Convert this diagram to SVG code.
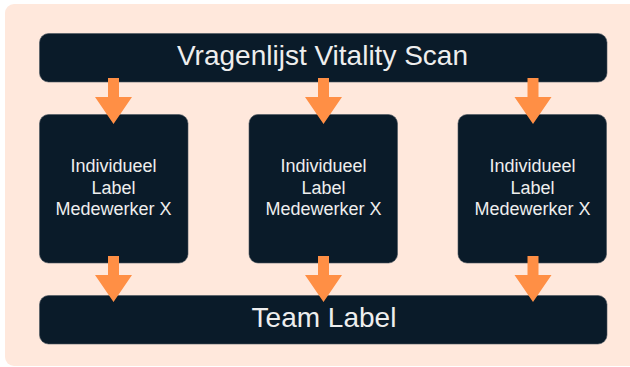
<svg xmlns="http://www.w3.org/2000/svg" width="630" height="367" viewBox="0 0 630 367">
<style>
.bg{fill:#FFE8DC}
.box{fill:#0A1B29;stroke:#4a5560;stroke-width:0.6}
.t{font-family:"Liberation Sans",Arial,sans-serif;fill:#EEEEEE;text-anchor:middle}
.big{font-size:28px}
.small{font-size:18px}
.arr{fill:#FF8F45}
</style>
<defs>
<path id="arrow" d="M-5.5,0 H5.5 V19 H18.5 L0,46 L-18.5,19 H-5.5 Z"/>
</defs>
<rect width="630" height="367" fill="#ffffff"/>
<rect class="bg" x="5" y="4" width="640" height="362" rx="9"/>
<g id="top">
<rect class="box" x="39.5" y="33.5" width="567.5" height="48.5" rx="9"/>
<text class="t big" x="322.5" y="65">Vragenlijst Vitality Scan</text>
</g>
<g id="node1">
<rect class="box" x="39.5" y="114.5" width="148.5" height="148.5" rx="9"/>
<text class="t small" x="113.5" y="172">Individueel</text>
<text class="t small" x="113.5" y="194">Label</text>
<text class="t small" x="113.5" y="215">Medewerker X</text>
</g>
<g id="node2">
<rect class="box" x="249" y="114.5" width="148.5" height="148.5" rx="9"/>
<text class="t small" x="323.5" y="172">Individueel</text>
<text class="t small" x="323.5" y="194">Label</text>
<text class="t small" x="323.5" y="215">Medewerker X</text>
</g>
<g id="node3">
<rect class="box" x="458" y="114.5" width="148.5" height="148.5" rx="9"/>
<text class="t small" x="532.5" y="172">Individueel</text>
<text class="t small" x="532.5" y="194">Label</text>
<text class="t small" x="532.5" y="215">Medewerker X</text>
</g>
<g id="team">
<rect class="box" x="39.5" y="295.5" width="567.5" height="48.5" rx="9"/>
<text class="t big" x="324" y="327">Team Label</text>
</g>
<g id="connectors" class="arr">
<use href="#arrow" x="113.5" y="78"/>
<use href="#arrow" x="323.5" y="78"/>
<use href="#arrow" x="533" y="78"/>
<use href="#arrow" x="113.5" y="256"/>
<use href="#arrow" x="323.5" y="256"/>
<use href="#arrow" x="533" y="256"/>
</g>
</svg>
